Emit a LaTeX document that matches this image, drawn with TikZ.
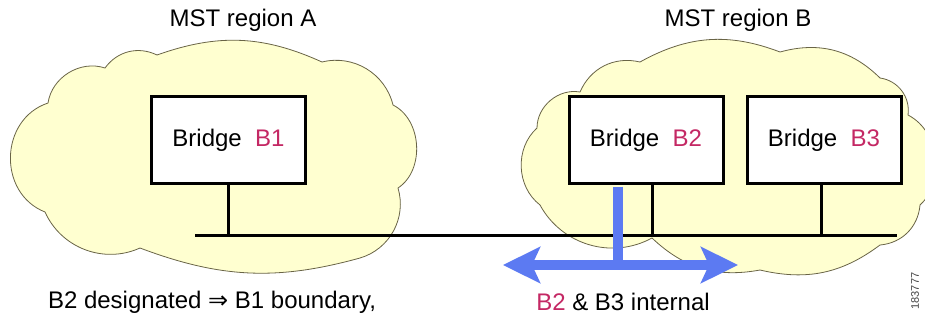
\documentclass[tikz,border=0pt]{standalone}
\usepackage{fontspec}
\setmainfont{Liberation Sans}
\newfontfamily\symfont{DejaVu Sans}
\usetikzlibrary{positioning, arrows.meta}
\definecolor{cloudfill}{RGB}{255,255,208}
\definecolor{clouddraw}{RGB}{105,100,70}
\definecolor{bridgered}{RGB}{196,40,100}
\definecolor{linkblue}{RGB}{92,122,242}
\tikzset{
    bridgenode/.style={
        rectangle,
        draw=black,
        fill=white,
        line width=3pt, % 边框加粗
        minimum width=154pt,
        minimum height=87pt,
        inner sep=0,
        font=\fontsize{24}{28}\selectfont
    },
    cloudshape/.style={
        fill=cloudfill, % 浅黄色填充
        draw=clouddraw,
        line width=0.8pt
    },
    textnode/.style={
        inner sep=0,
        font=\fontsize{24}{28}\selectfont
    },
    lanline/.style={
        line width=3pt
    },
    bluelink/.style={
        draw=linkblue,
        line width=10pt
    }
}

\begin{document}
\begin{tikzpicture}[x=1pt, y=-1pt]
    \useasboundingbox (0,0) rectangle (925,322);
    % 区域 A 的云
    \draw[cloudshape] (48,103) to[bend left=50] (105,68) to[bend left=40] (157,55)
        to[bend left=22] (322,62) to[bend left=45] (393,105) to[bend left=60] (398,188)
        to[bend left=45] (360,258) to[bend left=18] (140,248) to[bend left=45] (45,212)
        to[bend left=70, looseness=1.2] (48,103) -- cycle;
    % 区域 B 的云
    \draw[cloudshape] (537,128) to[bend left=50] (580,92) to[bend left=40] (640,62)
        to[bend left=25] (780,52) to[bend left=30] (880,78) to[bend left=45] (908,115)
        to[bend left=55] (920,205) to[bend left=40] (880,245) to[bend left=25] (760,270)
        to[bend left=27] (652,238) to[bend left=45] (540,205)
        to[bend left=50] (537,128) -- cycle;
    % 标题
    \node[textnode] (titleA) at (243,20) {MST region A};
    \node[textnode] (titleB) at (738,20) {MST region B};
    % 网桥
    \node[bridgenode] (b1) at (228.5,140) {Bridge~~\textcolor{bridgered}{B1}};
    \node[bridgenode] (b2) at (646,140) {Bridge~~\textcolor{bridgered}{B2}};
    \node[bridgenode, right=21pt of b2] (b3) {Bridge~~\textcolor{bridgered}{B3}};
    % 局域网
    \coordinate (busL) at (195,235);
    \coordinate (busR) at (897,235);
    \draw[lanline] (busL) -- (busR);
    \draw[lanline] (b1.south) -- (b1.south |- busL);
    \draw[lanline] ([xshift=6pt]b2.south) -- ([xshift=6pt]b2.south |- busL);
    \draw[lanline] ([xshift=-3pt]b3.south) -- ([xshift=-3pt]b3.south |- busL);
    % 蓝色箭头
    \coordinate (armL) at (503,265);
    \coordinate (armR) at (738,265);
    \coordinate (armT) at (618,265);
    \draw[bluelink] ([xshift=-28pt, yshift=-1.5pt]b2.south) -- (armT);
    \draw[bluelink, {Stealth[length=37pt, width=36pt, inset=8pt]}-{Stealth[length=37pt, width=36pt, inset=8pt]}] (armL) -- (armR);
    % 说明文字
    \node[textnode] (noteA) at (212,302) {B2 designated {\symfont ⇒} B1 boundary,};
    \node[textnode] (noteB) at (623,302) {\textcolor{bridgered}{B2} \& B3 internal};
    \node[inner sep=0, rotate=90, font=\fontsize{11}{12}\selectfont, text=black!75] (figid) at (915,291) {183777};
\end{tikzpicture}
\end{document}
